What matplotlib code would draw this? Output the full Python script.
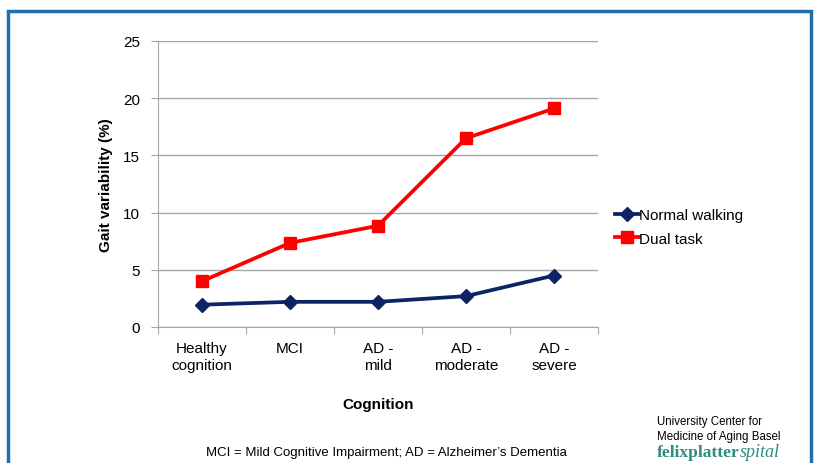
import numpy as np
import matplotlib.pyplot as plt
from matplotlib.patches import Rectangle
from matplotlib.lines import Line2D

plt.rcParams['font.family'] = ['Liberation Sans', 'DejaVu Sans']

categories = ['Healthy\ncognition', 'MCI', 'AD -\nmild', 'AD -\nmoderate', 'AD -\nsevere']
normal_walking = [1.95, 2.2, 2.2, 2.7, 4.5]
dual_task = [4.0, 7.35, 8.85, 16.5, 19.1]
yticks = [0, 5, 10, 15, 20, 25]

navy = '#0c2461'
red = '#ff0000'
grid_col = '#a6a6a6'
teal = '#2e8b7f'

fig = plt.figure(figsize=(8.16, 4.64), dpi=100)
ax = fig.add_axes([158 / 816, 1 - 328 / 464, 440 / 816, 286 / 464])

x = np.arange(len(categories))
ax.plot(x, normal_walking, color=navy, lw=2.7, marker='D', ms=7,
        markerfacecolor=navy, markeredgecolor=navy, label='Normal walking', zorder=3)
ax.plot(x, dual_task, color=red, lw=2.7, marker='s', ms=8,
        markerfacecolor=red, markeredgecolor=red, label='Dual task', zorder=3)

ax.set_xlim(-0.5, len(categories) - 0.5)
ax.set_ylim(0, 25)
ax.set_yticks(yticks)
ax.set_yticklabels([str(v) for v in yticks], fontsize=11)
ax.yaxis.grid(True, color=grid_col, lw=1)
ax.set_axisbelow(True)

# category labels sit between the boundary ticks
ax.set_xticks(np.arange(len(categories) + 1) - 0.5)
ax.set_xticklabels([])
ax.set_xticks(x, minor=True)
ax.set_xticklabels(categories, minor=True, fontsize=11, linespacing=1.3)
ax.tick_params(axis='x', which='minor', length=0, pad=10)
ax.tick_params(axis='x', which='major', length=5, color=grid_col)
ax.tick_params(axis='y', length=5, color=grid_col, pad=8)

for side in ('top', 'right'):
    ax.spines[side].set_visible(False)
for side in ('left', 'bottom'):
    ax.spines[side].set_color(grid_col)

ax.set_ylabel('Gait variability (%)', fontsize=11, fontweight='bold', labelpad=7)
fig.text(378 / 816, 1 - 405 / 464, 'Cognition', fontsize=11, fontweight='bold',
         ha='center', va='center')

handles = [
    Line2D([], [], color=navy, lw=2.7, marker='D', ms=7, label='Normal walking'),
    Line2D([], [], color=red, lw=2.7, marker='s', ms=8, label='Dual task'),
]
fig.legend(handles=handles, loc='center left', bbox_to_anchor=(601 / 816, 1 - 228 / 464),
           frameon=False, fontsize=11, handlelength=1.6, handletextpad=0.0,
           labelspacing=0.6)

fig.text(386 / 816, 1 - 453 / 464,
         'MCI = Mild Cognitive Impairment; AD = Alzheimer\u2019s Dementia',
         fontsize=9.5, ha='center', va='center')

fig.text(657 / 816, 1 - 422 / 464, 'University Center for', fontsize=8.3, va='center')
fig.text(657 / 816, 1 - 437 / 464, 'Medicine of Aging Basel', fontsize=8.3, va='center')
t1 = fig.text(657 / 816, 1 - 453 / 464, 'felixplatter', fontsize=12.5, va='center',
              color=teal, family=['Liberation Serif', 'DejaVu Serif'], fontweight='bold')
fig.canvas.draw()
bb = t1.get_window_extent()
fig.text(bb.x1 / 816, 1 - 453 / 464, 'spital', fontsize=13, va='center',
         color=teal, family=['Liberation Serif', 'DejaVu Serif'], style='italic')

# slide frame
fig.patches.append(Rectangle((8 / 816, -0.05), 803 / 816, 1 - 12 / 464 + 0.05,
                             transform=fig.transFigure, fill=False,
                             edgecolor='#1f6fab', lw=2.5))

fig.savefig('out.png', dpi=100)
